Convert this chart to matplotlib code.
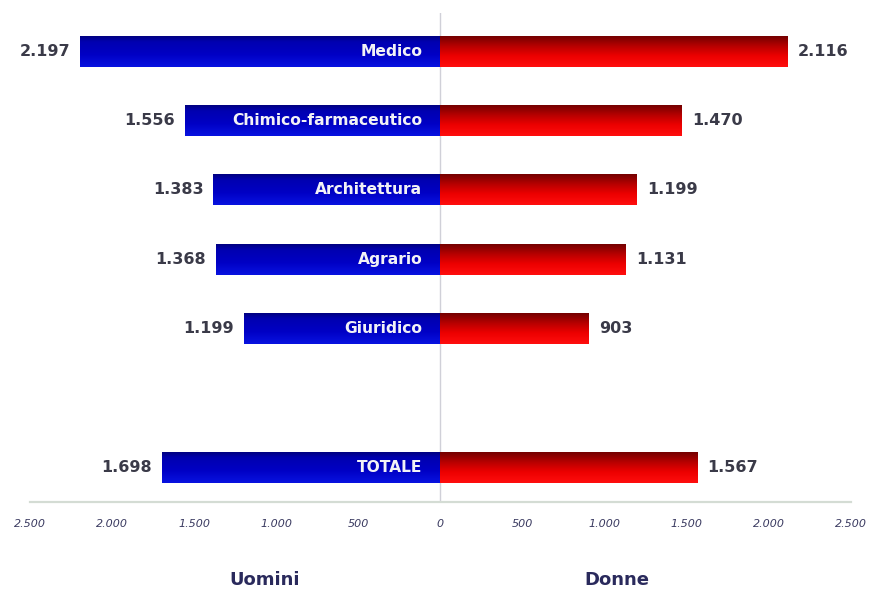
import numpy as np
import matplotlib
matplotlib.use("Agg")
import matplotlib.pyplot as plt
from matplotlib.colors import LinearSegmentedColormap

categories = ["Medico", "Chimico-farmaceutico", "Architettura", "Agrario", "Giuridico", "TOTALE"]
uomini = [2197, 1556, 1383, 1368, 1199, 1698]
donne = [2116, 1470, 1199, 1131, 903, 1567]
positions = [0, 1, 2, 3, 4, 6]
ticks = [-2500, -2000, -1500, -1000, -500, 0, 500, 1000, 1500, 2000, 2500]


def fmt(v):
    return f"{abs(v):,}".replace(",", ".")


fig = plt.figure(figsize=(8.74, 5.94), dpi=100)
ax = fig.add_axes([0.0343, 0.155, 0.9394, 0.823])

# gradients: dark top edge, brighter body
blue_cm = LinearSegmentedColormap.from_list(
    "b", [(0, "#000078"), (0.2, "#0000b0"), (0.6, "#0000c4"), (1, "#0812e0")])
red_cm = LinearSegmentedColormap.from_list(
    "r", [(0, "#6e0000"), (0.35, "#b80000"), (0.65, "#ec0000"), (1, "#ff0e0e")])
grad = np.linspace(0, 1, 64).reshape(-1, 1)

h = 0.45
bl = ax.barh(positions, [-u for u in uomini], height=h, color="#0000c0", zorder=2)
br = ax.barh(positions, donne, height=h, color="#d00000", zorder=2)

for bars, cm in ((bl, blue_cm), (br, red_cm)):
    for p in bars:
        x0, y0 = p.get_x(), p.get_y()
        w, hh = p.get_width(), p.get_height()
        im = ax.imshow(grad, cmap=cm, aspect="auto", zorder=3,
                       extent=[x0, x0 + w, y0 + hh, y0], interpolation="bicubic")
        im.set_clip_path(p)

lab_col = "#3a3a48"
for pos, cat, u, d in zip(positions, categories, uomini, donne):
    ax.text(-u - 60, pos, fmt(u), ha="right", va="center", fontsize=11.5,
            fontweight="bold", color=lab_col, zorder=4)
    ax.text(d + 60, pos, fmt(d), ha="left", va="center", fontsize=11.5,
            fontweight="bold", color=lab_col, zorder=4)
    ax.text(-110, pos, cat, ha="right", va="center", fontsize=11.2,
            fontweight="bold", color="#f2f2f6", zorder=4)

ax.axvline(0, color="#d0d0d8", lw=1, zorder=1)

ax.set_xlim(-2500, 2500)
ax.set_ylim(6.5, -0.55)
ax.set_xticks(ticks)
ax.set_xticklabels([fmt(t) for t in ticks], fontsize=8, style="italic", color="#3a3a60")
ax.tick_params(axis="x", length=0, pad=12)
ax.set_yticks([])
for s in ("top", "left", "right"):
    ax.spines[s].set_visible(False)
ax.spines["bottom"].set_color("#d4dcd4")
ax.spines["bottom"].set_linewidth(1.6)

fig.text(265 / 874, 1 - 580 / 594, "Uomini", ha="center", va="center",
         fontsize=13, fontweight="bold", color="#2a2a5c")
fig.text(617 / 874, 1 - 580 / 594, "Donne", ha="center", va="center",
         fontsize=13, fontweight="bold", color="#2a2a5c")

fig.savefig("out.png", dpi=100)
